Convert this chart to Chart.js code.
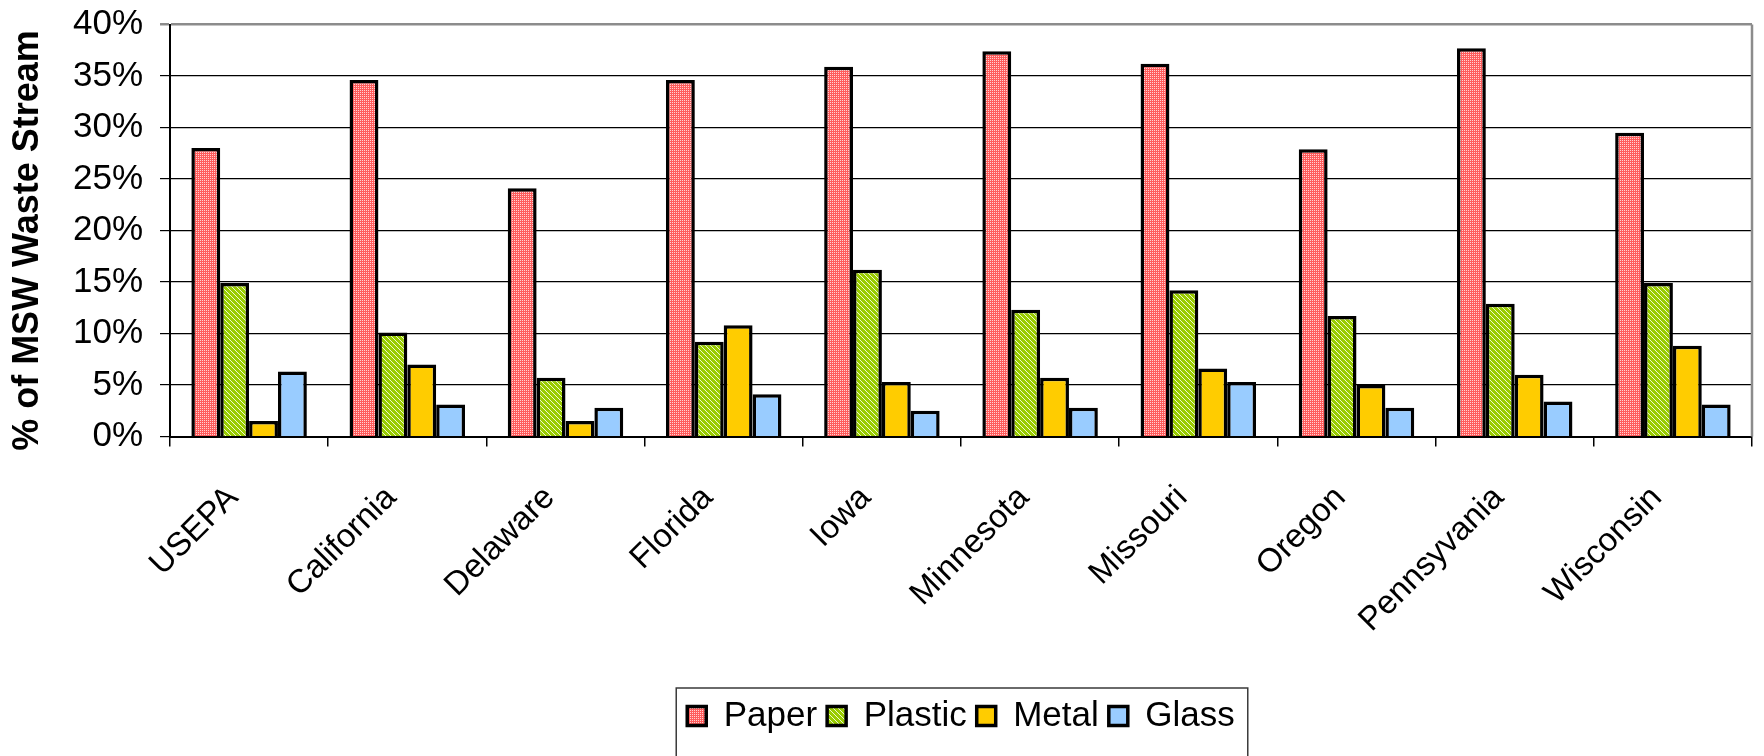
<!DOCTYPE html>
<html>
<head>
<meta charset="utf-8">
<title>Composition of the MSW waste stream</title>
<script src="https://cdn.jsdelivr.net/npm/chart.js@4.4.1/dist/chart.umd.min.js"></script>
<style>
  html, body { margin: 0; padding: 0; background: #ffffff; }
  #wrap { width: 1764px; height: 756px; }
</style>
</head>
<body>
<div id="wrap"><canvas id="chart" width="1764" height="756"></canvas></div>
<script>
// Share of the municipal solid waste stream, by material (percent)
const categories = ['USEPA', 'California', 'Delaware', 'Florida', 'Iowa', 'Minnesota', 'Missouri', 'Oregon', 'Pennsyvania', 'Wisconsin'];
const paper   = [28.0, 34.6, 24.1, 34.6, 35.9, 37.4, 36.2, 27.9, 37.7, 29.5];
const plastic = [14.9, 10.1, 5.7, 9.2, 16.2, 12.3, 14.2, 11.7, 12.9, 14.9];
const metal   = [1.5, 7.0, 1.5, 10.8, 5.3, 5.7, 6.6, 5.0, 6.0, 8.8];
const glass   = [6.3, 3.1, 2.8, 4.1, 2.5, 2.8, 5.3, 2.8, 3.4, 3.1];
const seriesNames = ['Paper', 'Plastic', 'Metal', 'Glass'];
const yTicks = [0, 5, 10, 15, 20, 25, 30, 35, 40];
const yTitle = '% of MSW Waste Stream';

const FONT = '"Liberation Sans", Arial, Helvetica, sans-serif';

// Fine dotted red fill
function dottedPattern() {
  const c = document.createElement('canvas');
  c.width = 2; c.height = 2;
  const g = c.getContext('2d');
  g.fillStyle = '#ff5c5c';
  g.fillRect(0, 0, 2, 2);
  g.fillStyle = '#ffd2d2';
  g.fillRect(0, 0, 1, 1);
  return g.createPattern(c, 'repeat');
}

// Green fill with light diagonal hatching
function hatchPattern() {
  const n = 5;
  const c = document.createElement('canvas');
  c.width = n; c.height = n;
  const g = c.getContext('2d');
  g.fillStyle = '#99cc00';
  g.fillRect(0, 0, n, n);
  g.fillStyle = '#eef7cf';
  for (let y = 0; y < n; y++) {
    for (let x = 0; x < n; x++) {
      if (((x - y) % n + n) % n === 0) g.fillRect(x, y, 1, 1);
    }
  }
  return g.createPattern(c, 'repeat');
}

const fills = [dottedPattern(), hatchPattern(), '#ffcc00', '#99ccff'];
const values = [paper, plastic, metal, glass];

// Right-hand frame of the plot, vertical axis title and a box round the legend
const framePlugin = {
  id: 'frame',
  afterDatasetsDraw(chart) {
    const { ctx, chartArea } = chart;
    ctx.save();
    ctx.strokeStyle = '#8c8c8c';
    ctx.lineWidth = 2.5;
    ctx.beginPath();
    ctx.moveTo(chartArea.right, chartArea.top);
    ctx.lineTo(chartArea.right, chartArea.bottom);
    ctx.stroke();
    ctx.restore();
  },
  afterDraw(chart) {
    const { ctx, chartArea } = chart;

    // axis title, rotated, centred a little below the middle of the value axis
    ctx.save();
    ctx.translate(28, (chartArea.top + chartArea.bottom) / 2 + 10);
    ctx.rotate(-Math.PI / 2);
    ctx.font = 'bold 36px ' + FONT;
    ctx.fillStyle = '#000000';
    ctx.textAlign = 'center';
    ctx.textBaseline = 'middle';
    ctx.fillText(yTitle, 0, 0);
    ctx.restore();

    const lg = chart.legend;
    if (!lg || !lg.legendHitBoxes || !lg.legendHitBoxes.length) return;
    const hb = lg.legendHitBoxes;
    const first = hb[0], last = hb[hb.length - 1];
    const cy = first.top + first.height / 2;
    ctx.save();
    ctx.strokeStyle = '#3a3a3a';
    ctx.lineWidth = 1.5;
    ctx.strokeRect(first.left - 11, cy - 28, (last.left + last.width + 13) - (first.left - 11), 80);
    ctx.restore();
  }
};

new Chart(document.getElementById('chart'), {
  type: 'bar',
  data: {
    labels: categories,
    datasets: seriesNames.map((name, i) => ({
      label: name,
      data: values[i],
      backgroundColor: fills[i],
      borderColor: '#000000',
      borderWidth: 3.5,
      categoryPercentage: 0.73,
      barPercentage: 1.0
    }))
  },
  options: {
    responsive: false,
    animation: false,
    devicePixelRatio: 1,
    layout: { padding: { top: 24.5, right: 12, bottom: 12.5, left: 0 } },
    plugins: {
      tooltip: { enabled: false },
      legend: {
        position: 'bottom',
        fullSize: false,
        labels: {
          color: '#000000',
          font: { family: FONT, size: 35 },
          boxWidth: 19,
          boxHeight: 19,
          padding: 10
        }
      }
    },
    scales: {
      x: {
        grid: {
          offset: true,
          drawOnChartArea: false,
          drawTicks: true,
          tickLength: 10,
          color: '#000000',
          lineWidth: 1.5
        },
        border: { color: '#000000', width: 2 },
        ticks: {
          color: '#000000',
          font: { family: FONT, size: 33 },
          minRotation: 45,
          maxRotation: 45,
          autoSkip: false,
          labelOffset: -16,
          padding: 32
        },
        afterFit(scale) { scale.height = 252; }
      },
      y: {
        min: 0,
        max: 40,
        afterBuildTicks(scale) { scale.ticks = yTicks.map(v => ({ value: v })); },
        grid: {
          drawTicks: true,
          tickLength: 10,
          color: ctx => (ctx.tick && ctx.tick.value === 40 ? '#8c8c8c' : '#000000'),
          lineWidth: ctx => (ctx.tick && ctx.tick.value === 40 ? 2.5 : 1.2)
        },
        border: { color: '#000000', width: 2 },
        ticks: {
          color: '#000000',
          font: { family: FONT, size: 35 },
          padding: 17,
          callback: v => v + '%'
        },
        afterFit(scale) {
          scale.width = 170;
          scale.paddingTop = 0;
          scale.paddingBottom = 0;
        }
      }
    }
  },
  plugins: [framePlugin]
});
</script>
</body>
</html>
